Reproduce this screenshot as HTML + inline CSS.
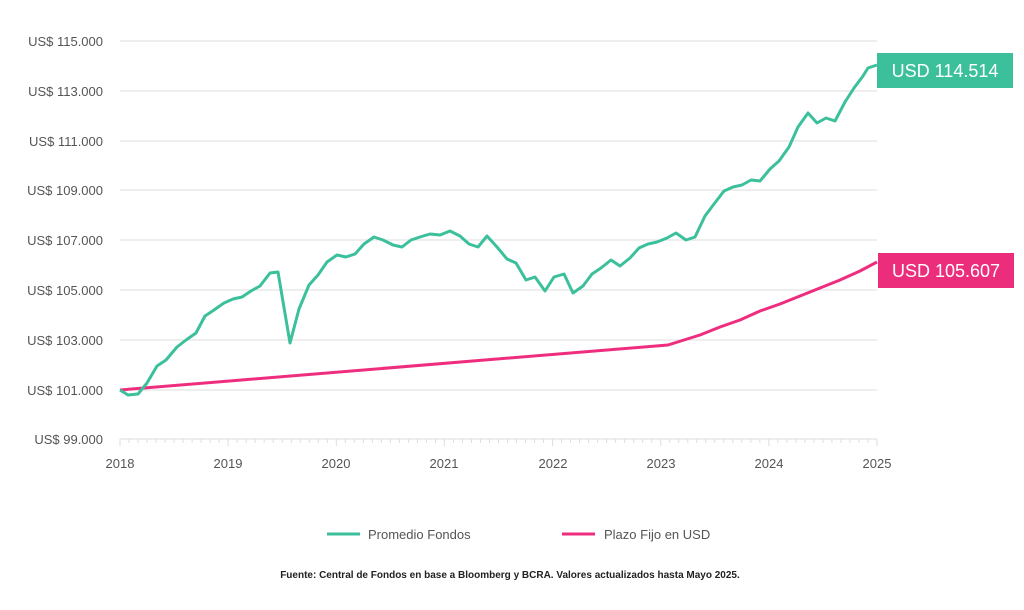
<!DOCTYPE html>
<html><head><meta charset="utf-8"><style>
body{margin:0;background:#fff;width:1024px;height:605px;overflow:hidden;font-family:"Liberation Sans",sans-serif}
</style></head><body>
<svg width="1024" height="605" xmlns="http://www.w3.org/2000/svg" font-family="Liberation Sans, sans-serif">
<g stroke="#ddd" stroke-width="1">
<line x1="120" x2="877" y1="41" y2="41"/><line x1="120" x2="877" y1="91" y2="91"/>
<line x1="120" x2="877" y1="141" y2="141"/><line x1="120" x2="877" y1="190" y2="190"/>
<line x1="120" x2="877" y1="240" y2="240"/><line x1="120" x2="877" y1="290" y2="290"/>
<line x1="120" x2="877" y1="340" y2="340"/><line x1="120" x2="877" y1="390" y2="390"/>
<line x1="120" x2="877" y1="439" y2="439"/>
</g>
<g id="ticks" stroke="#ddd" stroke-width="1"></g>
<g fill="#555" font-size="13" text-anchor="end">
<text x="103" y="46">US$ 115.000</text><text x="103" y="96">US$ 113.000</text>
<text x="103" y="146">US$ 111.000</text><text x="103" y="195">US$ 109.000</text>
<text x="103" y="245">US$ 107.000</text><text x="103" y="295">US$ 105.000</text>
<text x="103" y="345">US$ 103.000</text><text x="103" y="395">US$ 101.000</text>
<text x="103" y="444">US$ 99.000</text>
</g>
<g fill="#555" font-size="13" text-anchor="middle">
<text x="120" y="468">2018</text><text x="228" y="468">2019</text><text x="336" y="468">2020</text>
<text x="444" y="468">2021</text><text x="553" y="468">2022</text><text x="661" y="468">2023</text>
<text x="769" y="468">2024</text><text x="877" y="468">2025</text>
</g>
<polyline fill="none" stroke="#ef2d7e" stroke-width="3" stroke-linejoin="round" points="120,390 668,345 700,335 720,327 740,320 760,311 780,304 800,296 820,288 840,280 860,271 877,262"/>
<polyline fill="none" stroke="#3cc09c" stroke-width="3" stroke-linejoin="round" points="120,390 128,395 138,394 147,383 157,366 166,360 177,347 186,340 196,333 205,316 214,310 224,303 233,299 242,297 251,291 260,286 270,273 278,272 290,343 299,309 309,285 318,275 327,262 337,255 346,257 355,254 364,244 374,237 383,240 393,245 402,247 411,240 420,237 430,234 440,235 450,231 460,236 469,244 478,247 487,236 497,247 507,259 516,263 526,280 535,277 545,291 554,277 564,274 573,293 583,286 592,274 601,268 611,260 620,266 630,258 639,248 648,244 657,242 667,238 676,233 686,240 695,237 705,216 714,204 724,191 733,187 742,185 751,180 760,181 770,169 779,161 789,147 798,127 808,113 817,123 826,118 835,121 845,102 854,88 863,76 868,68 877,65"/>
<rect x="877" y="53" width="136" height="35" fill="#3cc09c"/>
<text x="945" y="77" fill="#fff" font-size="18" text-anchor="middle">USD 114.514</text>
<rect x="878" y="253" width="136" height="35" fill="#ec2d7c"/>
<text x="946" y="277" fill="#fff" font-size="18" text-anchor="middle">USD 105.607</text>
<line x1="327" x2="360" y1="534" y2="534" stroke="#3cc09c" stroke-width="3"/>
<text x="368" y="539" font-size="13" fill="#555">Promedio Fondos</text>
<line x1="562" x2="595" y1="534" y2="534" stroke="#ef2d7e" stroke-width="3"/>
<text x="604" y="539" font-size="13" fill="#555">Plazo Fijo en USD</text>
<text x="510" y="578" font-size="10" font-weight="bold" fill="#222" text-anchor="middle">Fuente: Central de Fondos en base a Bloomberg y BCRA. Valores actualizados hasta Mayo 2025.</text>
</svg>
<script>
var g=document.getElementById('ticks'),s='';
for(var i=0;i<=84;i++){var x=120+i*757/84;s+='<line x1="'+x+'" x2="'+x+'" y1="439" y2="'+(i%12==0?446:443)+'"/>';}
g.innerHTML=s;
</script>
</body></html>
